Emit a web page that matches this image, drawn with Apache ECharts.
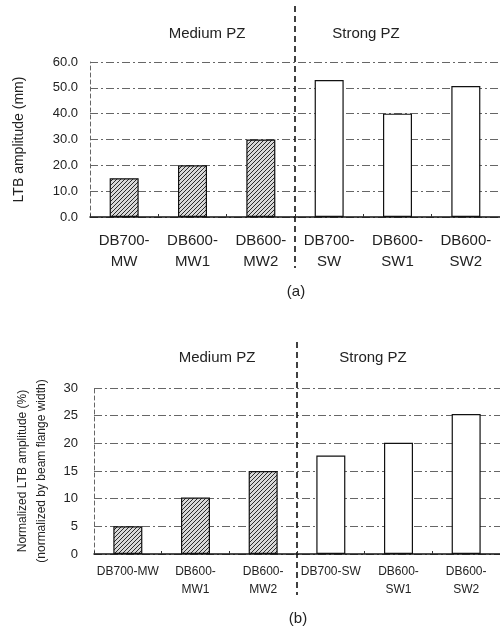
<!DOCTYPE html>
<html>
<head>
<meta charset="utf-8">
<script src="https://cdn.jsdelivr.net/npm/echarts@6/dist/echarts.min.js"></script>
<style>
  html, body { margin: 0; padding: 0; background: #fff; }
  #chart { width: 500px; height: 632px; }
</style>
</head>
<body>
<div id="chart"></div>
<script>
// (a) LTB amplitude
var catsA = ["DB700-\nMW", "DB600-\nMW1", "DB600-\nMW2", "DB700-\nSW", "DB600-\nSW1", "DB600-\nSW2"];
var ltbA = [15, 20, 30, 53, 40, 50.7];
// (b) normalized LTB amplitude
var catsB = ["DB700-MW", "DB600-\nMW1", "DB600-\nMW2", "DB700-SW", "DB600-\nSW1", "DB600-\nSW2"];
var normB = [5, 10.2, 15, 17.8, 20.1, 25.3];
// panel zone group of each specimen
var groups = ["Medium", "Medium", "Medium", "Strong", "Strong", "Strong"];

var FONT = "Liberation Sans, Arial, sans-serif";

// diagonal hatch for medium PZ bars
function hatch() {
  var c = document.createElement("canvas");
  c.width = 4;
  c.height = 4;
  var ctx = c.getContext("2d");
  ctx.fillStyle = "#d8d8d8";
  ctx.fillRect(0, 0, 4, 4);
  ctx.strokeStyle = "#2a2a2a";
  ctx.lineWidth = 1;
  ctx.beginPath();
  ctx.moveTo(0, 4); ctx.lineTo(4, 0);
  ctx.moveTo(-1, 1); ctx.lineTo(1, -1);
  ctx.moveTo(3, 5); ctx.lineTo(5, 3);
  ctx.stroke();
  return { image: c, repeat: "repeat" };
}
var hatchFill = hatch();

function barData(vals) {
  return vals.map(function (v, i) {
    return {
      value: v,
      itemStyle: {
        color: groups[i] === "Medium" ? hatchFill : "#fff",
        borderColor: "#111",
        borderWidth: 1.2,
      },
    };
  });
}

var gridLine = { show: true, lineStyle: { color: "#666", type: [8, 3, 2, 3], width: 1 } };

var chart = echarts.init(document.getElementById("chart"));
chart.setOption({
  animation: false,
  textStyle: { fontFamily: FONT },
  grid: [
    { left: 90, top: 62, width: 410, height: 155, containLabel: false },
    { left: 94, top: 388, width: 412, height: 166, containLabel: false },
  ],
  xAxis: [
    {
      type: "category",
      gridIndex: 0,
      data: catsA,
      axisLine: { lineStyle: { color: "#111", width: 1.5 } },
      axisTick: { show: true, inside: true, length: 3, lineStyle: { color: "#333" } },
      axisLabel: { color: "#222", fontSize: 15, lineHeight: 21, margin: 13, interval: 0 },
    },
    {
      type: "category",
      gridIndex: 1,
      data: catsB,
      axisLine: { lineStyle: { color: "#111", width: 1.5 } },
      axisTick: { show: true, inside: true, length: 3, lineStyle: { color: "#333" } },
      axisLabel: { color: "#222", fontSize: 12, lineHeight: 18, margin: 9, interval: 0 },
    },
  ],
  yAxis: [
    {
      type: "value",
      gridIndex: 0,
      min: 0,
      max: 60,
      interval: 10,
      name: "LTB amplitude (mm)",
      nameLocation: "middle",
      nameRotate: 90,
      nameGap: 64,
      nameTextStyle: { fontSize: 14, color: "#222" },
      axisLine: { show: true, lineStyle: { color: "#666", type: [4, 3] } },
      axisTick: { show: false },
      axisLabel: { color: "#222", fontSize: 13, margin: 12, formatter: function (v) { return v.toFixed(1); } },
      splitLine: gridLine,
    },
    {
      type: "value",
      gridIndex: 1,
      min: 0,
      max: 30,
      interval: 5,
      name: "Normalized LTB amplitude (%)\n(normalized by beam flange width)",
      nameLocation: "middle",
      nameRotate: 90,
      nameGap: 43,
      nameTextStyle: { fontSize: 12, color: "#222", lineHeight: 19 },
      axisLine: { show: true, lineStyle: { color: "#666", type: [4, 3] } },
      axisTick: { show: false },
      axisLabel: { color: "#222", fontSize: 13, margin: 16 },
      splitLine: gridLine,
    },
  ],
  series: [
    { type: "bar", xAxisIndex: 0, yAxisIndex: 0, barWidth: 29, data: barData(ltbA) },
    { type: "bar", xAxisIndex: 1, yAxisIndex: 1, barWidth: 29, data: barData(normB) },
  ],
});

// group labels, captions and the dashed separators between medium and strong PZ
function sepX(xAxisIndex, cats) {
  var a = chart.convertToPixel({ xAxisIndex: xAxisIndex }, cats[2]);
  var b = chart.convertToPixel({ xAxisIndex: xAxisIndex }, cats[3]);
  return (a + b) / 2;
}
var xa = sepX(0, catsA);
var xb = sepX(1, catsB);
var txt = function (x, y, s, size) {
  return {
    type: "text", x: x, y: y,
    style: { text: s, fill: "#222", font: size + "px " + FONT, align: "center", verticalAlign: "middle" },
  };
};
var dash = function (x, y1, y2) {
  return {
    type: "line",
    shape: { x1: x, y1: y1, x2: x, y2: y2 },
    style: { stroke: "#111", lineWidth: 1.6, lineDash: [6, 4] },
  };
};
chart.setOption({
  graphic: [
    dash(xa, 6, 268),
    dash(xb, 342, 595),
    txt(207, 34, "Medium PZ", 15),
    txt(366, 34, "Strong PZ", 15),
    txt(217, 358, "Medium PZ", 15),
    txt(373, 358, "Strong PZ", 15),
    txt(296, 292, "(a)", 15),
    txt(298, 619, "(b)", 15),
  ],
});
</script>
</body>
</html>
